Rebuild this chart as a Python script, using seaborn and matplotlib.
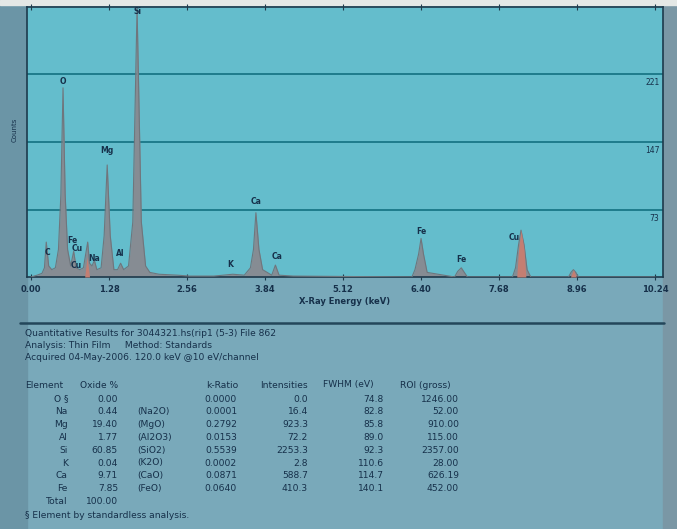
import numpy as np
import pandas as pd
import matplotlib
matplotlib.use("Agg")
import matplotlib.pyplot as plt
import seaborn as sns

# ----------------------------------------------------------------------------
# Spectrum (keV, counts)

spec_kev = [0.00, 0.10, 0.18, 0.22, 0.25, 0.29, 0.34, 0.40, 0.45, 0.49, 0.525,
            0.56, 0.60, 0.65, 0.70, 0.74, 0.80, 0.86, 0.90, 0.93, 0.96, 1.00,
            1.04, 1.08, 1.15, 1.20, 1.25, 1.30, 1.36, 1.42, 1.47, 1.52, 1.60,
            1.67, 1.74, 1.81, 1.88, 1.95, 2.10, 2.40, 2.60, 3.00, 3.31, 3.50,
            3.60, 3.65, 3.69, 3.74, 3.80, 3.95, 4.01, 4.07, 4.30, 6.25, 6.30,
            6.36, 6.40, 6.44, 6.50, 6.95, 7.00, 7.06, 7.11, 7.16, 7.90, 7.95,
            8.00, 8.04, 8.09, 8.14, 8.20, 8.82, 8.86, 8.90, 8.94, 8.98, 10.24]
spec_counts = [0, 2, 4, 10, 38, 12, 8, 10, 30, 90, 206,
               90, 30, 12, 28, 10, 8, 10, 26, 38, 15, 12,
               18, 8, 10, 45, 122, 45, 8, 8, 15, 8, 12,
               60, 293, 60, 12, 5, 3, 2, 1, 1, 3, 2,
               10, 30, 70, 30, 8, 2, 13, 2, 1, 0, 8,
               25, 42, 25, 5, 0, 6, 10, 5, 0, 0, 10,
               35, 51, 35, 8, 0, 0, 5, 8, 5, 0, 0]

# copper lines shown in red
cu_peaks = [
    ([0.88, 0.92, 0.96], [0, 22, 0]),
    ([7.97, 8.00, 8.04, 8.09, 8.12], [0, 30, 51, 30, 0]),
    ([8.85, 8.90, 8.95], [0, 8, 0]),
]

# peak labels: text, keV, counts
peak_labels = ["C", "O", "Fe", "Cu", "Cu", "Na", "Mg", "Al", "Si", "K", "Ca",
               "Ca", "Fe", "Fe", "Cu"]
label_kev = [0.27, 0.52, 0.68, 0.76, 0.74, 1.04, 1.25, 1.46, 1.74, 3.27, 3.69,
             4.03, 6.40, 7.06, 7.92]
label_counts = [27, 213, 40, 31, 13, 20, 138, 26, 289, 14, 82,
                22, 50, 19, 43]

grid_counts = [73, 147, 221]
xticks = [0.00, 1.28, 2.56, 3.84, 5.12, 6.40, 7.68, 8.96, 10.24]

header_lines = [
    "Quantitative Results for 3044321.hs(rip1 (5-3) File 862",
    "Analysis: Thin Film     Method: Standards",
    "Acquired 04-May-2006. 120.0 keV @10 eV/channel",
]
col_heads = ["Element", "Oxide %", "k-Ratio", "Intensities", "FWHM (eV)",
             "ROI (gross)"]
elements = ["O \u00a7", "Na", "Mg", "Al", "Si", "K", "Ca", "Fe"]
oxide_pct = ["0.00", "0.44", "19.40", "1.77", "60.85", "0.04", "9.71", "7.85"]
oxides = ["", "(Na2O)", "(MgO)", "(Al2O3)", "(SiO2)", "(K2O)", "(CaO)", "(FeO)"]
k_ratio = ["0.0000", "0.0001", "0.2792", "0.0153", "0.5539", "0.0002",
           "0.0871", "0.0640"]
intensities = ["0.0", "16.4", "923.3", "72.2", "2253.3", "2.8", "588.7",
               "410.3"]
fwhm = ["74.8", "82.8", "85.8", "89.0", "92.3", "110.6", "114.7", "140.1"]
roi = ["1246.00", "52.00", "910.00", "115.00", "2357.00", "28.00", "626.19",
       "452.00"]
total_pct = "100.00"
footnote = "\u00a7 Element by standardless analysis."

# ----------------------------------------------------------------------------

W, H = 677, 529
txt = '#16304a'
sns.set_style('white', {'axes.facecolor': '#64bdcc'})
plt.rcParams['font.family'] = ['DejaVu Sans']

fig = plt.figure(figsize=(W / 100, H / 100), dpi=100, facecolor='#79a9ba')
# darker left and right strips of the screen, behind everything
fig.patches.append(plt.Rectangle((0, 0), 27 / W, 1, transform=fig.transFigure,
                                 color='#6b95a6', zorder=-5))
fig.patches.append(plt.Rectangle((663 / W, 0), 14 / W, 1,
                                 transform=fig.transFigure, color='#7a97a5',
                                 zorder=-5))
fig.patches.append(plt.Rectangle((0, 1 - 5 / H), 1, 5 / H,
                                 transform=fig.transFigure, color='#e4e8e6',
                                 zorder=-5))

ax = fig.add_axes([27 / W, 1 - 277 / H, 636 / W, 270 / H])

df = pd.DataFrame({'keV': spec_kev, 'counts': spec_counts})
ax.fill_between(df['keV'], df['counts'], color='#868c93', lw=0, zorder=2)
sns.lineplot(data=df, x='keV', y='counts', ax=ax, color='#6f767d', lw=0.8,
             zorder=3)
for xs, ys in cu_peaks:
    ax.fill_between(xs, ys, color='#c47e72', lw=0, zorder=4)

for g in grid_counts:
    ax.axhline(g, color='#1f7c8c', lw=1.4, zorder=1)
    ax.text(10.31, g - 4, str(g), ha='right', va='top', fontsize=5.5,
            color=txt)

for t, xk, yc in zip(peak_labels, label_kev, label_counts):
    ax.text(xk, yc, t, ha='center', va='center', fontsize=5.5, color=txt,
            fontweight='bold', zorder=5)

ax.set_xlim(-0.066, 10.37)
ax.set_ylim(0, 294)
ax.set_xticks(xticks)
ax.set_xticklabels([f'{t:.2f}' for t in xticks], fontsize=6, color=txt,
                   fontweight='bold')
ax.set_yticks([])
ax.tick_params(axis='x', direction='inout', length=4, width=0.8,
               color='#1d3a4c', top=True, bottom=True, pad=4)
for s in ax.spines.values():
    s.set_color('#1d3a4c')
    s.set_linewidth(1.2)
ax.set_xlabel('X-Ray Energy (keV)', fontsize=6, color=txt, labelpad=2,
              fontweight='bold')
ax.set_ylabel('')
fig.text(15 / W, 1 - 130 / H, 'Counts', rotation=90, fontsize=5, color=txt,
         ha='center', va='center')

# separator and results block
fig.add_artist(plt.Line2D([20 / W, 664 / W], [1 - 323 / H, 1 - 323 / H],
                          color='#23465a', lw=1.8))

fs = 6.6


def put(x, y, s, ha='left'):
    fig.text(x / W, 1 - y / H, s, ha=ha, va='center', fontsize=fs,
             color=txt)


for i, line in enumerate(header_lines):
    put(25, 333 + i * 12, line)

put(25, 385, col_heads[0])
put(80, 385, col_heads[1])
put(238, 385, col_heads[2], 'right')
put(308, 385, col_heads[3], 'right')
put(323, 385, col_heads[4])
put(400, 385, col_heads[5])

for i in range(len(elements)):
    y = 399 + i * 12.8
    put(68, y, elements[i], 'right')
    put(118, y, oxide_pct[i], 'right')
    put(137, y, oxides[i])
    put(237, y, k_ratio[i], 'right')
    put(308, y, intensities[i], 'right')
    put(384, y, fwhm[i], 'right')
    put(459, y, roi[i], 'right')

put(68, 502, 'Total', 'right')
put(118, 502, total_pct, 'right')
put(25, 515, footnote)

fig.savefig('out.png', dpi=100, facecolor=fig.get_facecolor())
